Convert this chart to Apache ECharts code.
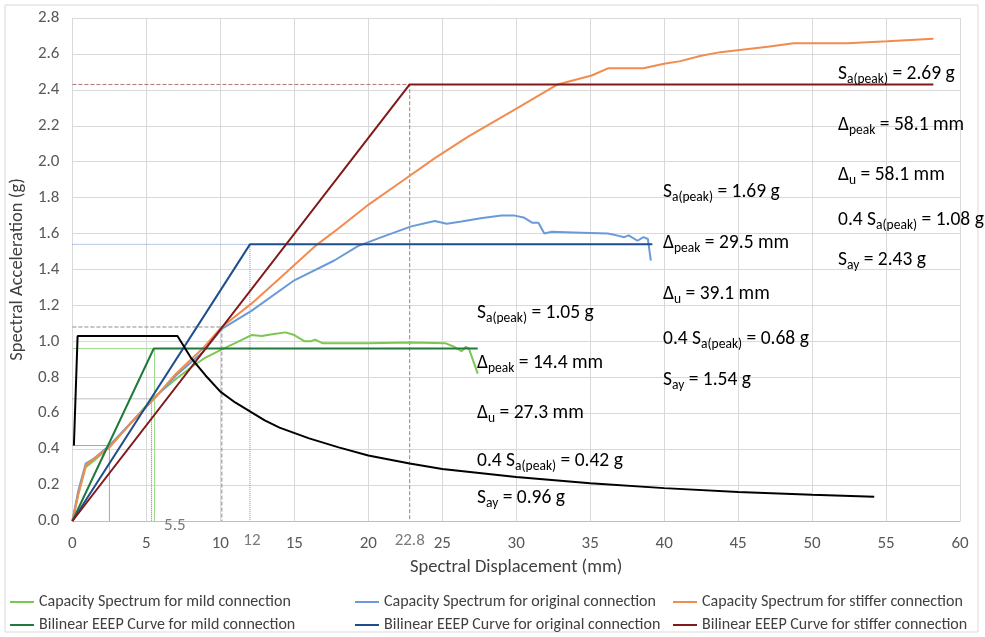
<!DOCTYPE html>
<html>
<head>
<meta charset="utf-8">
<title>Capacity spectrum vs demand</title>
<script src="https://cdn.jsdelivr.net/npm/echarts@6/dist/echarts.min.js"></script>
<style>
  html, body { margin: 0; padding: 0; background: #fff; }
  #chart { width: 985px; height: 637px; }
</style>
</head>
<body>
<div id="chart"></div>
<script>
// --- data: [Sd (mm), Sa (g)] ---
const mildCapacity = [[0,0],[0.4,0.15],[0.9,0.3],[1.5,0.34],[2.5,0.41],[4,0.55],[5.4,0.68],[7,0.79],[8.1,0.86],[9,0.91],[10.2,0.96],[11,0.99],[12.1,1.035],[12.8,1.03],[13.5,1.04],[14.4,1.05],[15,1.035],[15.7,1.0],[16.1,1.0],[16.4,1.01],[16.9,0.99],[20,0.99],[22.9,0.993],[25.2,0.99],[25.8,0.97],[26.3,0.945],[26.6,0.97],[26.8,0.96],[27.4,0.82]];
const origCapacity = [[0,0],[0.4,0.17],[0.9,0.32],[1.5,0.35],[2.5,0.42],[4,0.55],[5.4,0.67],[7,0.81],[8.8,0.94],[10.1,1.07],[12.1,1.17],[15,1.34],[17.7,1.45],[19.3,1.53],[20.9,1.58],[22.9,1.64],[24.5,1.67],[25.3,1.655],[26.3,1.667],[27.6,1.685],[29,1.7],[29.9,1.7],[30.5,1.69],[31.1,1.66],[31.5,1.66],[31.9,1.6],[32.4,1.61],[34.4,1.605],[36.2,1.6],[36.8,1.59],[37.3,1.58],[37.6,1.59],[38.2,1.56],[38.6,1.58],[38.9,1.57],[39.1,1.45]];
const stiffCapacity = [[0,0],[0.4,0.15],[0.9,0.31],[1.5,0.35],[2.5,0.41],[4,0.55],[5.4,0.67],[7,0.82],[8.8,0.96],[10.1,1.08],[12.1,1.21],[14,1.35],[16.4,1.53],[18,1.63],[20,1.76],[22.25,1.89],[24.5,2.02],[26.75,2.14],[30.1,2.3],[32.8,2.43],[35.1,2.48],[36.2,2.52],[38.6,2.52],[40,2.545],[41.1,2.56],[42.5,2.59],[43.8,2.61],[47,2.64],[48.75,2.66],[52.4,2.66],[55.1,2.67],[58.2,2.685]];
const mildBilinear = [[0,0],[5.5,0.96],[27.4,0.96]];
const origBilinear = [[0,0],[12,1.54],[39.2,1.54]];
const stiffBilinear = [[0,0],[22.8,2.43],[58.2,2.43]];
const demand = [[0.1,0.42],[0.35,1.03],[7.1,1.03],[8,0.91],[9,0.81],[10,0.72],[11,0.66],[12,0.61],[13,0.56],[14,0.52],[16,0.46],[18,0.41],[20,0.365],[22.8,0.32],[25,0.29],[30,0.245],[35,0.21],[40,0.183],[45,0.162],[50,0.146],[54.2,0.135]];

// guide lines (horizontal then vertical drop)
const guideStiff = [[0,2.43],[22.8,2.43],[22.8,0]];
const guideOrig = [[0,1.54],[12,1.54],[12,0]];
const guideStiff04 = [[0,1.08],[10.1,1.08],[10.1,0]];
const guideOrig04 = [[0,0.68],[5.35,0.68],[5.35,0]];
const guideMild = [[0,0.96],[5.55,0.96],[5.55,0]];
const guideMild04 = [[0,0.42],[2.5,0.42],[2.5,0]];

const extraTicks = [5.5, 12, 22.8];

const legendNames = [
  'Capacity Spectrum for mild connection',
  'Capacity Spectrum for original connection',
  'Capacity Spectrum for stiffer connection',
  'Bilinear EEEP Curve for mild connection',
  'Bilinear EEEP Curve for original connection',
  'Bilinear EEEP Curve for stiffer connection'
];

// annotation texts per connection
const stiffNotes = ['{m|S}{s|a(peak)}{m| = 2.69 g}', '{m|Δ}{s|peak}{m| = 58.1 mm}', '{m|Δ}{s|u}{m| = 58.1 mm}', '{m|0.4 S}{s|a(peak)}{m| = 1.08 g}', '{m|S}{s|ay}{m| = 2.43 g}'];
const origNotes = ['{m|S}{s|a(peak)}{m| = 1.69 g}', '{m|Δ}{s|peak}{m| = 29.5 mm}', '{m|Δ}{s|u}{m| = 39.1 mm}', '{m|0.4 S}{s|a(peak)}{m| = 0.68 g}', '{m|S}{s|ay}{m| = 1.54 g}'];
const mildNotes = ['{m|S}{s|a(peak)}{m| = 1.05 g}', '{m|Δ}{s|peak}{m| = 14.4 mm}', '{m|Δ}{s|u}{m| = 27.3 mm}', '{m|0.4 S}{s|a(peak)}{m| = 0.42 g}', '{m|S}{s|ay}{m| = 0.96 g}'];

const FONT = 'Carlito, "Liberation Sans", Arial, sans-serif';
const chart = echarts.init(document.getElementById('chart'));

// 标注文字
const noteRich = {
  m: { fontSize: 19.5, fontFamily: FONT, color: '#000', lineHeight: 22 },
  s: { fontSize: 13.5, fontFamily: FONT, color: '#000', lineHeight: 13, padding: [12, 0, 0, 0] }
};
function noteGroup (notes, x, ys) {
  return notes.map((t, i) => ({
    type: 'text', x: x, y: ys[i], z: 100,
    style: { text: t, rich: noteRich, verticalAlign: 'middle', align: 'left' }
  }));
}

function line (name, data, color, width) {
  return { name, type: 'line', data, showSymbol: false, symbol: 'none', lineStyle: { color, width: width || 2 }, itemStyle: { color }, z: 3 };
}
function guide (data, color, type, width) {
  return { type: 'line', data, showSymbol: false, symbol: 'none', silent: true, lineStyle: { color, width: width || 1, type }, z: 2 };
}

// 图例: one component per entry so the 3x2 layout matches
const legendPos = [[5, 589], [350, 589], [668, 589], [5, 612], [350, 612], [668, 612]];
const legends = legendNames.map((n, i) => ({
  data: [n], left: legendPos[i][0], top: legendPos[i][1],
  icon: 'rect', itemWidth: 24, itemHeight: 2, itemGap: 4,
  textStyle: { fontSize: 16, fontFamily: FONT, color: '#404040' }
}));

const tickOffsets = { 5.5: [21, -4], 12: [2, 11], 22.8: [0, 11] };
const TICK = 17;

chart.setOption({
  animation: false,
  backgroundColor: '#fff',
  grid: { left: 70, right: 25, top: 18, bottom: 116 },
  legend: legends,
  xAxis: {
    type: 'value', min: 0, max: 60, interval: 5,
    name: 'Spectral Displacement (mm)', nameLocation: 'middle', nameGap: 37,
    nameTextStyle: { fontSize: 18.5, fontFamily: FONT, color: '#404040' },
    axisLine: { show: true, lineStyle: { color: '#bfbfbf' } },
    axisTick: { show: false },
    axisLabel: { fontSize: TICK, fontFamily: FONT, color: '#595959', margin: 14 },
    splitLine: { show: true, lineStyle: { color: '#d9d9d9' } }
  },
  yAxis: {
    type: 'value', min: 0, max: 2.8, interval: 0.2,
    name: 'Spectral Acceleration (g)', nameLocation: 'middle', nameGap: 41,
    nameTextStyle: { fontSize: 18.5, fontFamily: FONT, color: '#404040' },
    axisLine: { show: false },
    axisTick: { show: false },
    axisLabel: { fontSize: TICK, fontFamily: FONT, color: '#595959', margin: 13, formatter: v => v.toFixed(1) },
    splitLine: { show: true, lineStyle: { color: '#d9d9d9' } }
  },
  graphic: [
    { type: 'rect', shape: { x: 5, y: 5, width: 973, height: 627 }, style: { fill: 'none', stroke: '#d9d9d9', lineWidth: 1 }, silent: true }
  ].concat(
    noteGroup(stiffNotes, 838, [74, 125, 175, 220, 260]),
    noteGroup(origNotes, 663, [192, 243, 294, 339, 380]),
    noteGroup(mildNotes, 477, [313, 363, 413, 461, 498])
  ),
  series: [
    guide(guideStiff, '#b07674', 'dashed'),
    guide(guideOrig, '#6f8fc8', 'dotted'),
    guide(guideStiff04, '#8c8c8c', 'dashed'),
    guide(guideOrig04, '#7f7f7f', 'dotted'),
    guide(guideMild, '#9fdc8f', 'solid'),
    guide(guideMild04, '#a6a6a6', 'solid'),
    line(legendNames[0], mildCapacity, '#7cc652'),
    line(legendNames[1], origCapacity, '#6a9bd8'),
    line(legendNames[2], stiffCapacity, '#f28b4f'),
    line(legendNames[3], mildBilinear, '#217a3c'),
    line(legendNames[4], origBilinear, '#1f4e8c'),
    line(legendNames[5], stiffBilinear, '#821818'),
    { type: 'line', data: demand, showSymbol: false, symbol: 'none', silent: true, lineStyle: { color: '#000', width: 2 }, z: 4 },
    {
      type: 'scatter', symbolSize: 0, silent: true, z: 5,
      data: extraTicks.map(v => ({
        value: [v, 0],
        label: { offset: [tickOffsets[v][0], tickOffsets[v][1]] }
      })),
      label: {
        show: true, position: 'bottom', distance: 0,
        fontSize: TICK, fontFamily: FONT, color: '#595959',
        formatter: p => String(p.value[0])
      }
    }
  ]
});
</script>
</body>
</html>
